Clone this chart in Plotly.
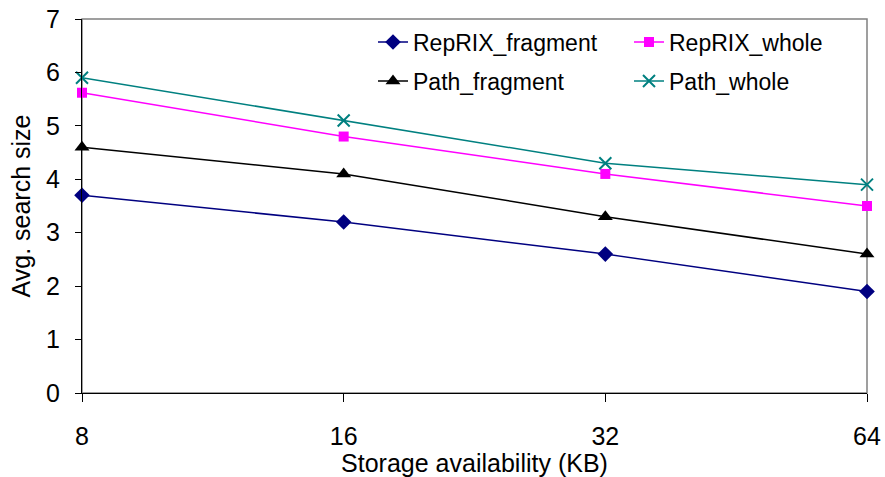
import plotly.graph_objects as go

categories = ["8", "16", "32", "64"]
reprix_fragment = [3.7, 3.2, 2.6, 1.9]
reprix_whole = [5.62, 4.8, 4.1, 3.5]
path_fragment = [4.6, 4.1, 3.3, 2.6]
path_whole = [5.9, 5.1, 4.3, 3.9]

FONT = "Liberation Sans, Arial, sans-serif"
xs = list(range(len(categories)))

fig = go.Figure()
fig.add_trace(go.Scatter(x=xs, y=reprix_fragment, name="RepRIX_fragment", mode="lines+markers",
                         line=dict(color="#000080", width=1.5),
                         marker=dict(symbol="diamond", size=12, color="#000080"),
                         cliponaxis=False, legend="legend"))
fig.add_trace(go.Scatter(x=xs, y=reprix_whole, name="RepRIX_whole", mode="lines+markers",
                         line=dict(color="#FF00FF", width=1.5),
                         marker=dict(symbol="square", size=10, color="#FF00FF"),
                         cliponaxis=False, legend="legend2"))
fig.add_trace(go.Scatter(x=xs, y=path_fragment, name="Path_fragment", mode="lines+markers",
                         line=dict(color="#000000", width=1.5),
                         marker=dict(symbol="triangle-up", size=13, color="#000000"),
                         cliponaxis=False, legend="legend3"))
fig.add_trace(go.Scatter(x=xs, y=path_whole, name="Path_whole", mode="lines+markers",
                         line=dict(color="#008080", width=1.5),
                         marker=dict(symbol="x-thin-open", size=12, color="#008080",
                                     line=dict(width=2, color="#008080")),
                         cliponaxis=False, legend="legend4"))

legend_common = dict(orientation="h", xanchor="left", yanchor="middle", visible=True,
                     bgcolor="rgba(0,0,0,0)", font=dict(family=FONT, size=23, color="#000"))

col1 = (373 - 82) / 785
col2 = (629 - 82) / 785
row1 = (393 - 42) / 374
row2 = (393 - 81) / 374

fig.update_layout(
    width=885, height=477,
    showlegend=True,
    margin=dict(l=82, r=18, t=19, b=84, autoexpand=False),
    paper_bgcolor="white", plot_bgcolor="white",
    font=dict(family=FONT, color="#000"),
    legend=dict(x=col1, y=row1, **legend_common),
    legend2=dict(x=col2, y=row1, **legend_common),
    legend3=dict(x=col1, y=row2, **legend_common),
    legend4=dict(x=col2, y=row2, **legend_common),
    xaxis=dict(range=[0, 3], tickvals=xs, ticktext=categories, automargin=False,
               showgrid=False, zeroline=False, showline=True, linecolor="#000", linewidth=1,
               ticks="outside", ticklen=8, tickcolor="#000",
               tickfont=dict(family=FONT, size=25), ticklabelstandoff=13,
               title=dict(text="Storage availability (KB)", font=dict(family=FONT, size=25), standoff=2)),
    yaxis=dict(range=[0, 7], dtick=1, showgrid=False, zeroline=False, showline=True, automargin=False,
               linecolor="#000", linewidth=1, ticks="outside", ticklen=6, tickcolor="#000",
               tickfont=dict(family=FONT, size=25), ticklabelstandoff=10,
               title=dict(text="Avg. search size", font=dict(family=FONT, size=25), standoff=8)),
    shapes=[dict(type="rect", xref="paper", yref="paper", x0=0, x1=1, y0=0, y1=1,
                 line=dict(color="#808080", width=1.5), layer="below")],
)

fig.write_html("out.html")
